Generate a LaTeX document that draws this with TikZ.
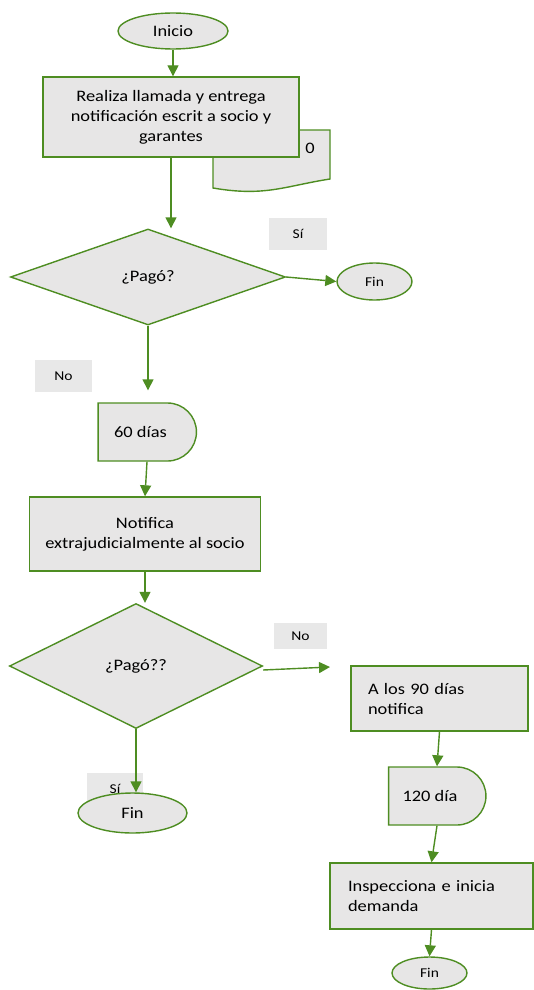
\documentclass[tikz,border=0pt]{standalone}
\usepackage{fontspec}
\setmainfont{Carlito}[FakeStretch=1.15]
\usepackage{tikz}
\usetikzlibrary{positioning,arrows.meta,shapes.geometric,shapes.misc}
\definecolor{flowgreen}{RGB}{78,141,34}
\definecolor{boxgrey}{RGB}{231,230,230}
\definecolor{labgrey}{RGB}{232,232,232}
\newcommand{\bigtxt}{\fontsize{16}{20}\selectfont}
\newcommand{\smalltxt}{\fontsize{13.5}{15}\selectfont}
\tikzset{
  proc/.style ={draw=flowgreen, fill=boxgrey, line width=1.4pt, align=center,
                font=\bigtxt, inner sep=2pt},
  term/.style ={ellipse, draw=flowgreen, fill=boxgrey, line width=1.4pt,
                inner sep=0pt, font=\bigtxt},
  dec/.style  ={diamond, draw=flowgreen, fill=boxgrey, line width=1.4pt,
                inner sep=0pt, font=\bigtxt},
  delay/.style={rounded rectangle, rounded rectangle west arc=none,
                draw=flowgreen, fill=boxgrey, line width=1.4pt, font=\bigtxt},
  lab/.style  ={fill=labgrey, font=\smalltxt, inner sep=0pt},
  arr/.style  ={-{Triangle[length=11pt,width=11pt]}, draw=flowgreen, line width=1.4pt},
}
\begin{document}
\begin{tikzpicture}[x=1pt,y=-1pt]
\useasboundingbox (0,0) rectangle (533,990);

% document shape half hidden behind the first step
\draw[draw=flowgreen, fill=boxgrey, line width=1.4pt]
  (213,130) -- (330,130) -- (330,179) .. controls (285,186) and (265,197) .. (213,188) -- cycle;
\node[font=\bigtxt] (doc0) at (310,148) {0};

% yes / no labels
\node[lab, minimum width=58pt, minimum height=32pt] (si1) at (298,234) {Sí};
\node[lab, minimum width=57pt, minimum height=32pt] (no1) at (63.5,376) {No};
\node[lab, minimum width=53pt, minimum height=26pt] (no2) at (300.5,636) {No};
\node[lab, minimum width=56pt, minimum height=32pt] (si2) at (115,789) {Sí};

% left column
\node[term, minimum width=110pt, minimum height=36pt] (ini) at (173,31) {Inicio};
\node[proc, minimum width=256pt, minimum height=80pt] (box1) at (171,117)
  {Realiza llamada y entrega\\notificación escrit a socio y\\garantes};
\node[dec, minimum width=275pt, minimum height=96pt] (dia1) at (148,277) {¿Pagó?};
\node[term, minimum width=75pt, minimum height=37pt, font=\smalltxt] (fin1) at (374.5,281.5) {Fin};
\node[delay, minimum width=105pt, minimum height=58pt] (d60) at (147,432) {60 días\hspace*{13pt}};
\node[proc, minimum width=231pt, minimum height=74pt] (box2) at (145,534)
  {Notifica\\extrajudicialmente al socio};
\node[dec, minimum width=253pt, minimum height=125pt] (dia2) at (136,666) {¿Pagó??};
\node[term, minimum width=109pt, minimum height=40pt] (fin2) at (132.5,813) {Fin};

% right column
\node[proc, minimum width=177pt, minimum height=65pt, align=left,
      text width=143pt, inner xsep=17pt] (box3) at (439.5,698.5) {A los 90 días\\notifica};
\node[delay, minimum width=104pt, minimum height=58pt] (d120) at (437,796) {120 día\hspace*{14pt}};
\node[proc, minimum width=203pt, minimum height=66pt, align=left,
      text width=167pt, inner xsep=18pt] (box4) at (431.5,896) {Inspecciona e inicia\\demanda};
\node[term, minimum width=75pt, minimum height=32pt, font=\smalltxt] (fin3) at (429.5,973) {Fin};
\coordinate (n2end) at (330,667);

% connectors
\draw[arr] (ini.south) -- (ini.south |- box1.north);
\draw[arr] (box1.south) -- (box1.south |- dia1.north);
\draw[arr] (dia1.east) -- (fin1.west);
\draw[arr, shorten >=12pt] (dia1.south) -- (dia1.south |- d60.north);
\draw[arr] (d60.south) -- (box2.north);
\draw[arr] (box2.south) -- (box2.south |- dia2.north);
\draw[arr] ([yshift=-4pt]dia2.east) -- (n2end);
\draw[arr] (dia2.south) -- (dia2.south |- fin2.north);
\draw[arr] (box3.south) -- (d120.north);
\draw[arr] (d120.south) -- (box4.north);
\draw[arr] (box4.south) -- (fin3.north);
\end{tikzpicture}
\end{document}
